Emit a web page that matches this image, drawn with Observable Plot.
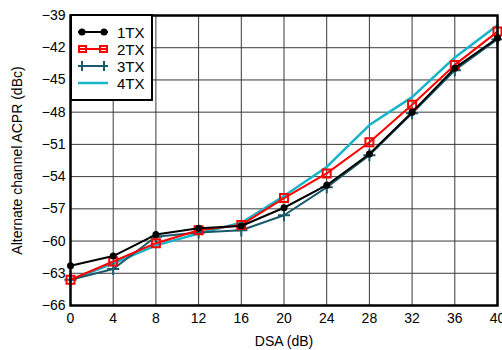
<!DOCTYPE html>
<html><head><meta charset="utf-8">
<script src="https://cdn.jsdelivr.net/npm/d3@7"></script>
<script src="https://cdn.jsdelivr.net/npm/@observablehq/plot@0.6"></script>
<style>
body{margin:0;background:#fff;font-family:"Liberation Sans",Arial,sans-serif;}
#wrap{position:relative;width:502px;height:350px;}
#legend{position:absolute;left:70px;top:14px;width:83px;height:87px;border:2px solid #000;background:#fff;box-sizing:border-box;font-size:15px;}
.row{position:absolute;left:6px;height:16px;display:flex;align-items:center;}
.row span{margin-left:9px;}
</style></head>
<body><div id="wrap"><div id="legend"></div></div>
<script>
const dsa = [0,4,8,12,16,20,24,28,32,36,40];
const tx1 = [-62.3,-61.4,-59.4,-58.8,-58.6,-56.9,-54.8,-51.9,-48.0,-43.9,-41.1];
const tx2 = [-63.6,-61.9,-60.2,-59.0,-58.5,-56.0,-53.7,-50.8,-47.3,-43.6,-40.5];
const tx3 = [-63.6,-62.6,-59.6,-59.2,-59.0,-57.6,-55.0,-52.0,-48.1,-44.1,-41.2];
const tx4 = [-63.6,-62.1,-60.4,-59.3,-58.3,-55.8,-53.1,-49.2,-46.6,-42.9,-39.9];
const seriesNames = ["1TX","2TX","3TX","4TX"];
const xTicks = [0,4,8,12,16,20,24,28,32,36,40];
const yTicks = [-66,-63,-60,-57,-54,-51,-48,-45,-42,-39];
const colors = {"1TX":"#000000","2TX":"#ff0000","3TX":"#1b5868","4TX":"#15b4c8"};

const all = [tx1,tx2,tx3,tx4];
const data = [];
seriesNames.forEach((s,i)=>dsa.forEach((x,j)=>data.push({s,x,y:all[i][j]})));
const sub = s => data.filter(d=>d.s===s);

const chart = Plot.plot({
  width:502, height:350,
  marginLeft:70, marginRight:5, marginTop:15, marginBottom:45,
  style:{fontFamily:"Liberation Sans, Arial, sans-serif", fontSize:"14px", color:"#000", background:"#fff"},
  x:{domain:[0,40], ticks:xTicks, tickSize:0, tickPadding:8, label:"DSA (dB)", labelAnchor:"center", labelArrow:"none", labelOffset:40},
  y:{domain:[-66,-39], ticks:yTicks, tickSize:0, tickPadding:5, label:"Alternate channel ACPR (dBc)", labelAnchor:"center", labelArrow:"none", labelOffset:58},
  marks:[
    Plot.gridX(xTicks,{stroke:"#3a3a3a", strokeOpacity:1, strokeWidth:1}),
    Plot.gridY(yTicks,{stroke:"#3a3a3a", strokeOpacity:1, strokeWidth:1}),
    Plot.line(sub("4TX"),{x:"x",y:"y",stroke:colors["4TX"],strokeWidth:2.5}),
    Plot.line(sub("3TX"),{x:"x",y:"y",stroke:colors["3TX"],strokeWidth:2}),
    Plot.dot(sub("3TX"),{x:"x",y:"y",stroke:colors["3TX"],symbol:"plus",r:4,strokeWidth:2}),
    Plot.line(sub("2TX"),{x:"x",y:"y",stroke:colors["2TX"],strokeWidth:2}),
    Plot.dot(sub("2TX"),{x:"x",y:"y",stroke:colors["2TX"],fill:"none",symbol:"square",r:4.5,strokeWidth:2}),
    Plot.line(sub("1TX"),{x:"x",y:"y",stroke:colors["1TX"],strokeWidth:2}),
    Plot.dot(sub("1TX"),{x:"x",y:"y",fill:colors["1TX"],r:3.5}),
    Plot.frame({stroke:"#000",strokeWidth:2.5})
  ]
});
const wrap = document.getElementById("wrap");
wrap.insertBefore(chart, wrap.firstChild);

const legend = document.getElementById("legend");
const marker = {
  "1TX": c=>`<circle cx="4" cy="8" r="3.5" fill="${c}"/><circle cx="26" cy="8" r="3.5" fill="${c}"/>`,
  "2TX": c=>`<rect x="1" y="5" width="7" height="6" fill="none" stroke="${c}" stroke-width="2"/><rect x="22" y="5" width="7" height="6" fill="none" stroke="${c}" stroke-width="2"/>`,
  "3TX": c=>`<path d="M4,3V13M26,3V13" stroke="${c}" stroke-width="2"/>`,
  "4TX": c=>``
};
seriesNames.forEach((s,i)=>{
  const row = document.createElement("div");
  row.className="row";
  row.style.top = (8+i*17)+"px";
  row.innerHTML = `<svg width="30" height="16"><line x1="0" y1="8" x2="30" y2="8" stroke="${colors[s]}" stroke-width="${s==='4TX'?2.5:2}"/>${marker[s](colors[s])}</svg><span>${s}</span>`;
  legend.appendChild(row);
});
</script></body></html>
